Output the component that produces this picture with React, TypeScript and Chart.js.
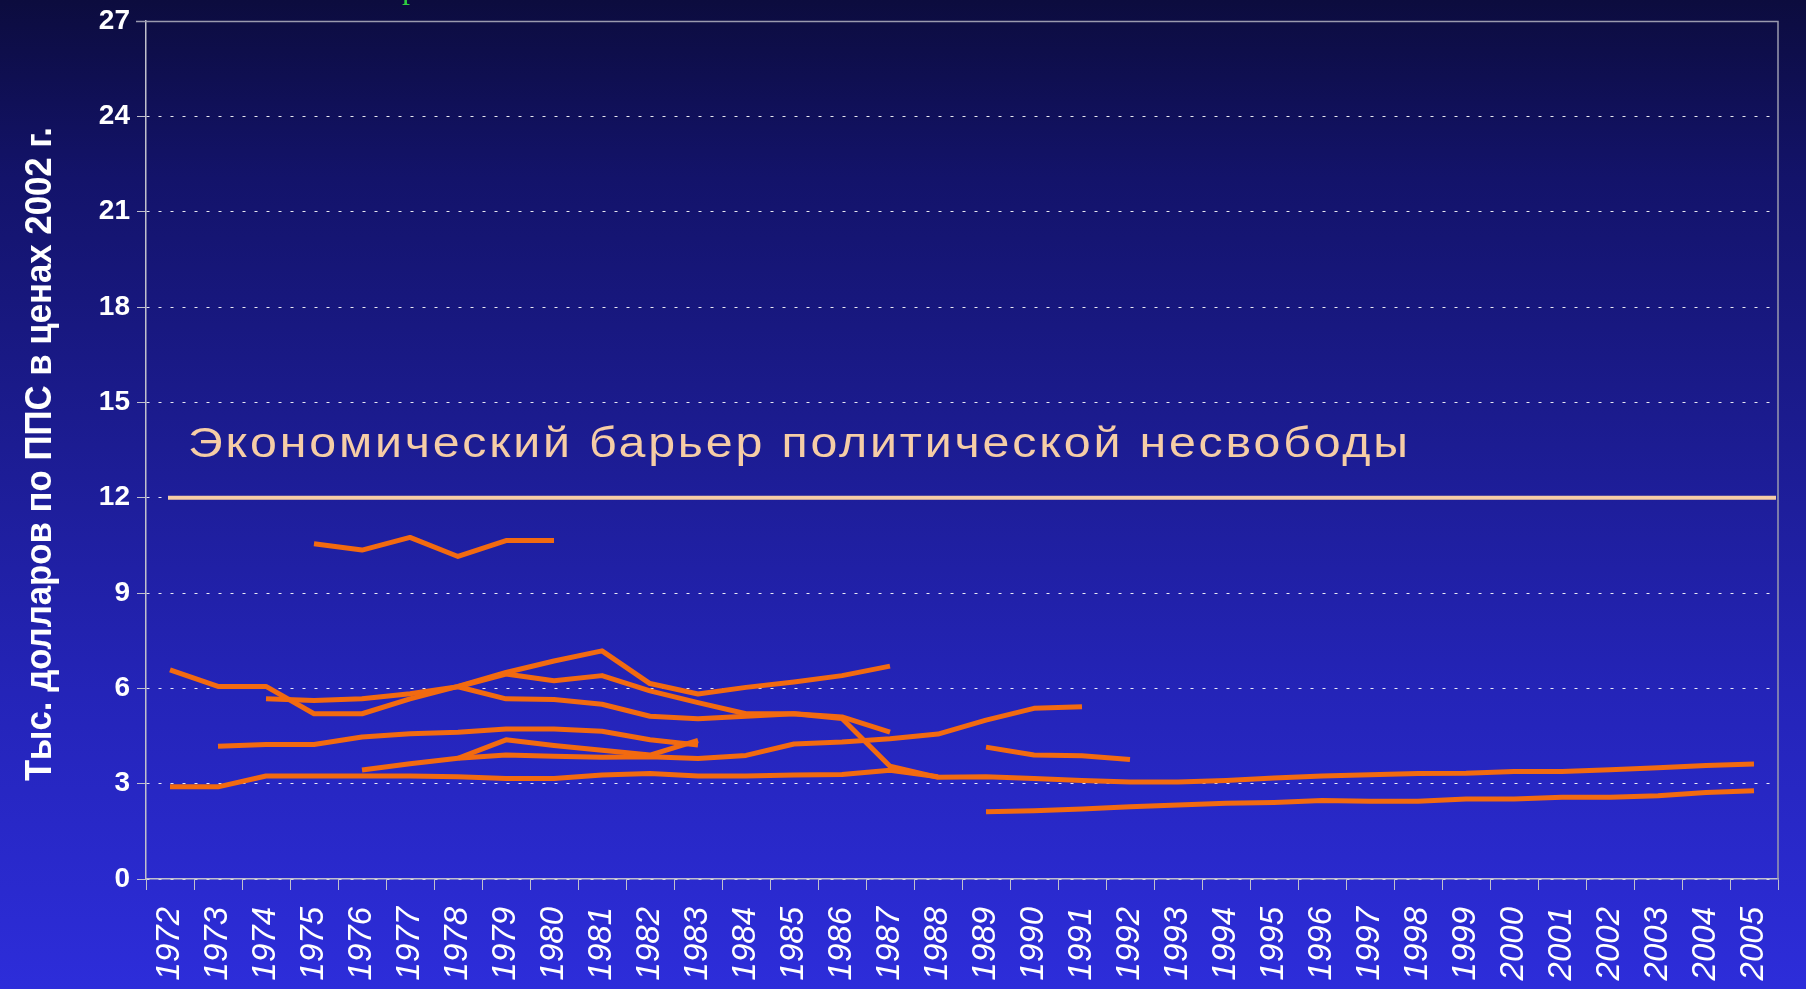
import React, { useEffect, useRef } from 'react';
import { Chart, registerables } from 'chart.js';

Chart.register(...registerables);

// ---------- data ----------
const YEARS = [
  '1972', '1973', '1974', '1975', '1976', '1977', '1978', '1979', '1980', '1981',
  '1982', '1983', '1984', '1985', '1986', '1987', '1988', '1989', '1990', '1991',
  '1992', '1993', '1994', '1995', '1996', '1997', '1998', '1999', '2000', '2001',
  '2002', '2003', '2004', '2005',
];

const Y_MIN = 0;
const Y_MAX = 27;
const Y_STEP = 3;

const BARRIER = 12;
const BARRIER_LABEL = 'Экономический барьер политической несвободы';
const Y_TITLE = 'Тыс. долларов по ППС в ценах 2002 г.';

// each country series: first year + values (thousand USD PPP, 2002 prices)
const S_A_START = 1975;
const S_A = [10.55, 10.35, 10.75, 10.15, 10.65, 10.65];

const S_B_START = 1972;
const S_B = [6.58, 6.06, 6.06, 5.2, 5.2, 5.67, 6.06, 6.5, 6.86, 7.18, 6.15, 5.82, 6.03, 6.2, 6.4, 6.7];

const S_C_START = 1974;
const S_C = [
  5.67, 5.62, 5.67, 5.83, 6.05, 5.67, 5.65, 5.5, 5.12, 5.04, 5.12, 5.2, 5.05, 3.55, 3.2, 3.22,
  3.16, 3.1, 3.05, 3.05, 3.1, 3.18, 3.24, 3.28, 3.32, 3.33, 3.38, 3.38, 3.44, 3.5, 3.57, 3.62,
];

const S_K_START = 1978;
const S_K = [6.05, 6.45, 6.24, 6.4, 5.92, 5.55, 5.2, 5.2, 5.1, 4.62];

const S_F_START = 1973;
const S_F = [4.18, 4.23, 4.23, 4.47, 4.57, 4.62, 4.72, 4.72, 4.65, 4.38, 4.22];

const S_G_START = 1978;
const S_G = [3.8, 4.38, 4.2, 4.05, 3.9, 4.36];

const S_E_START = 1976;
const S_E = [3.43, 3.63, 3.8, 3.9, 3.86, 3.83, 3.85, 3.79, 3.89, 4.25, 4.31, 4.41, 4.56, 5.0, 5.37, 5.42];

const S_H_START = 1972;
const S_H = [2.9, 2.9, 3.24, 3.24, 3.24, 3.24, 3.22, 3.16, 3.16, 3.27, 3.32, 3.24, 3.24, 3.27, 3.29, 3.42, 3.22];

const S_L_START = 1989;
const S_L = [4.15, 3.9, 3.88, 3.76];

const S_J_START = 1989;
const S_J = [2.12, 2.15, 2.2, 2.27, 2.33, 2.38, 2.41, 2.47, 2.45, 2.45, 2.52, 2.52, 2.57, 2.57, 2.62, 2.72, 2.78];

const SERIES: [number, number[]][] = [
  [S_A_START, S_A],
  [S_B_START, S_B],
  [S_C_START, S_C],
  [S_K_START, S_K],
  [S_F_START, S_F],
  [S_G_START, S_G],
  [S_E_START, S_E],
  [S_H_START, S_H],
  [S_L_START, S_L],
  [S_J_START, S_J],
];

// ---------- styles ----------
const ORANGE = '#f26a10';
const PEACH = '#f6cda6';
const AXIS = '#c0c0cc';
const SANS = '"Liberation Sans", Arial, Helvetica, sans-serif';

const framePlugin = {
  id: 'frame',
  beforeDatasetsDraw(chart: any) {
    const { ctx, chartArea } = chart;
    const { x, y } = chart.scales;
    ctx.save();
    // top and right frame lines
    ctx.strokeStyle = '#9a9aae';
    ctx.lineWidth = 1.5;
    ctx.beginPath();
    ctx.moveTo(chartArea.left - 10, chartArea.top + 0.5);
    ctx.lineTo(chartArea.right, chartArea.top + 0.5);
    ctx.lineTo(chartArea.right, chartArea.bottom);
    ctx.stroke();
    // barrier line
    const by = y.getPixelForValue(BARRIER);
    ctx.strokeStyle = PEACH;
    ctx.lineWidth = 4;
    ctx.beginPath();
    ctx.moveTo(x.getPixelForValue(0) - 2, by);
    ctx.lineTo(chartArea.right - 2, by);
    ctx.stroke();
    // barrier label
    ctx.fillStyle = PEACH;
    ctx.font = `42px ${SANS}`;
    ctx.textBaseline = 'alphabetic';
    ctx.textAlign = 'left';
    const stretch = 1.15;
    const natural = ctx.measureText(BARRIER_LABEL).width * stretch;
    const target = 1220;
    const ls = Math.max(0, (target - natural) / (BARRIER_LABEL.length - 1)) / stretch;
    (ctx as any).letterSpacing = `${ls}px`;
    ctx.translate(x.getPixelForValue(0) + 18, by - 41);
    ctx.scale(stretch, 1);
    ctx.fillText(BARRIER_LABEL, 0, 0);
    ctx.restore();

    // y axis title
    ctx.save();
    ctx.fillStyle = '#ffffff';
    ctx.font = `bold 36px ${SANS}`;
    ctx.textAlign = 'center';
    ctx.textBaseline = 'middle';
    const tw = ctx.measureText(Y_TITLE).width;
    const titleLen = 654;
    ctx.translate(41, (chartArea.top + chartArea.bottom) / 2 + 4);
    ctx.rotate(-Math.PI / 2);
    ctx.scale(titleLen / tw, 1);
    ctx.fillText(Y_TITLE, 0, 0);
    ctx.restore();
  },
};

export default function App() {
  const ref = useRef<HTMLCanvasElement | null>(null);

  useEffect(() => {
    document.body.style.margin = '0';
    const canvas = ref.current;
    if (!canvas) return;
    const datasets = SERIES.map(([start, values], k) => ({
      label: `s${k}`,
      data: values.map((v, i) => ({ x: String(start + i), y: v })),
      borderColor: ORANGE,
      backgroundColor: ORANGE,
      borderWidth: 5,
      pointRadius: 0,
      tension: 0,
      fill: false,
      spanGaps: false,
      borderJoinStyle: 'round' as const,
      borderCapStyle: 'butt' as const,
    }));

    const chart = new Chart(canvas, {
      type: 'line',
      data: { labels: YEARS, datasets },
      options: {
        responsive: false,
        maintainAspectRatio: false,
        animation: false,
        layout: { padding: { top: 21, right: 28, left: 0, bottom: 0 } },
        plugins: { legend: { display: false }, tooltip: { enabled: false }, title: { display: false } },
        scales: {
          x: {
            type: 'category',
            offset: true,
            grid: {
              offset: true,
              drawOnChartArea: false,
              drawTicks: true,
              tickLength: 11,
              tickColor: AXIS,
              lineWidth: 1,
            },
            border: { display: true, color: AXIS, width: 1.5 },
            ticks: {
              color: '#ffffff',
              font: { family: SANS, size: 33, style: 'italic' },
              minRotation: 90,
              maxRotation: 90,
              autoSkip: false,
              padding: 17,
            },
            afterFit: (s: any) => {
              s.height = 110;
              s.paddingLeft = 0;
              s.paddingRight = 0;
            },
          },
          y: {
            min: Y_MIN,
            max: Y_MAX,
            ticks: {
              stepSize: Y_STEP,
              color: '#ffffff',
              font: { family: SANS, size: 28, weight: 'bold' },
              padding: 7,
            },
            grid: {
              color: 'rgba(255,255,255,0.9)',
              lineWidth: 1,
              drawTicks: true,
              tickLength: 9,
              tickColor: AXIS,
            },
            border: { display: true, color: AXIS, width: 1.5, dash: [3, 9] },
            title: { display: false },
            afterFit: (s: any) => {
              s.width = 146;
              s.paddingTop = 0;
              s.paddingBottom = 0;
            },
          },
        },
      },
      plugins: [framePlugin],
    });
    return () => chart.destroy();
  }, []);

  return (
    <div
      style={{
        position: 'fixed',
        left: 0,
        top: 0,
        width: 1806,
        height: 989,
        overflow: 'hidden',
        background:
          'linear-gradient(to bottom, #0c0c3e 0%, #13136a 18%, #1c1c92 45%, #2424b8 70%, #2d2dda 100%)',
      }}
    >
      <div
        style={{
          position: 'absolute',
          left: 402,
          top: -29,
          fontFamily: '"Liberation Serif", "Times New Roman", serif',
          fontSize: 32,
          lineHeight: '32px',
          color: '#2fd040',
          zIndex: 2,
        }}
      >
        р
      </div>
      <canvas ref={ref} width={1806} height={989} style={{ position: 'absolute', left: 0, top: 0, width: 1806, height: 989 }} />
    </div>
  );
}
